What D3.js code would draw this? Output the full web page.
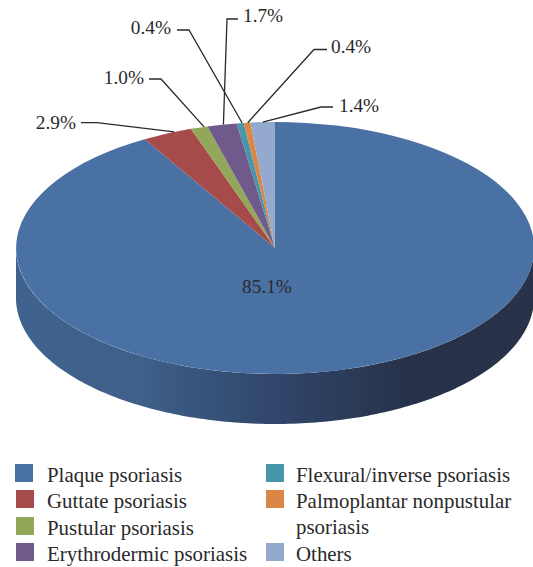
<!DOCTYPE html>
<html>
<head>
<meta charset="utf-8">
<script src="https://cdnjs.cloudflare.com/ajax/libs/d3/7.8.5/d3.min.js"></script>
<style>
  html, body { margin: 0; padding: 0; background: #fff; }
  text { font-family: "Liberation Serif", serif; fill: #2a2a2a; }
</style>
</head>
<body>
<div id="chart"></div>
<script>
// Chart data
var categories = ["Plaque psoriasis", "Guttate psoriasis", "Pustular psoriasis", "Erythrodermic psoriasis",
  "Flexural/inverse psoriasis", "Palmoplantar nonpustular psoriasis", "Others"];
var values = [85.1, 2.9, 1.0, 1.7, 0.4, 0.4, 1.4];
var valueLabels = ["85.1%", "2.9%", "1.0%", "1.7%", "0.4%", "0.4%", "1.4%"];
var colors = ["#4a71a4", "#a64b4a", "#92a75a", "#705a8c", "#4896ab", "#d98646", "#93a9cd"];

var svgWidth = 533;
var svgHeight = 567;

// Pie ellipse
var cx = 275, cy = 248, rx = 259, ry = 126, depth = 50;

var svg = d3.select("#chart")
  .append("svg")
  .attr("width", svgWidth)
  .attr("height", svgHeight)
  .style("display", "block");

// Gradient for the rim, dark towards the right
var grad = svg.append("defs").append("linearGradient")
  .attr("id", "rim")
  .attr("gradientUnits", "userSpaceOnUse")
  .attr("x1", cx - rx).attr("x2", cx + rx)
  .attr("y1", 0).attr("y2", 0);
grad.append("stop").attr("offset", "0").attr("stop-color", "#3f628f");
grad.append("stop").attr("offset", "0.24").attr("stop-color", "#3e6089");
grad.append("stop").attr("offset", "0.5").attr("stop-color", "#30466a");
grad.append("stop").attr("offset", "0.76").attr("stop-color", "#27324a");
grad.append("stop").attr("offset", "1").attr("stop-color", "#283349");

// Slices start at 12 o'clock and go clockwise, same order as the data
var pie = d3.pie().sort(null);
var arcs = pie(values);

var unitArc = d3.arc().innerRadius(0).outerRadius(1);

// point on the ellipse edge, a is the d3 pie angle
function edge(a) {
  return [cx + rx * Math.sin(a), cy - ry * Math.cos(a)];
}

// Rim, front half of the ellipse pushed down by depth
var rimAngles = d3.range(Math.PI / 2, Math.PI * 1.5 + 0.001, Math.PI / 180);
var rimArea = d3.area()
  .x(a => edge(a)[0])
  .y0(a => edge(a)[1])
  .y1(a => edge(a)[1] + depth);

svg.append("path")
  .attr("d", rimArea(rimAngles))
  .attr("fill", "url(#rim)");

// Top face
svg.append("g")
  .attr("transform", `translate(${cx}, ${cy}) scale(${rx}, ${ry})`)
  .selectAll("path")
  .data(arcs)
  .enter()
  .append("path")
  .attr("d", unitArc)
  .attr("fill", (d, i) => colors[i]);

// Leader lines: f is how far along the slice the line lands, lineY the level of the flat part
var leaders = [null,
  { f: 0.65, textX: 76, textY: 129, anchor: "end", startX: 81, elbowX: 97, lineY: 122.7 },
  { f: 0.8, textX: 144, textY: 84, anchor: "end", startX: 149, elbowX: 161, lineY: 79 },
  { f: 0.55, textX: 243, textY: 22, anchor: "start", startX: 238, elbowX: 227, lineY: 19 },
  { f: 0.8, textX: 171, textY: 34, anchor: "end", startX: 177, elbowX: 189, lineY: 30 },
  { f: 0.6, textX: 331, textY: 53, anchor: "start", startX: 327, elbowX: 314, lineY: 49.5 },
  { f: 0.5, textX: 339, textY: 112, anchor: "start", startX: 333, elbowX: 321, lineY: 107 }
];

var line = d3.line();
arcs.forEach(function(d, i) {
  var o = leaders[i];
  if (!o) return;
  var p = edge(d.startAngle + o.f * (d.endAngle - d.startAngle) - 2 * Math.PI);
  svg.append("path")
    .attr("d", line([[p[0], p[1]], [o.elbowX, o.lineY], [o.startX, o.lineY]]))
    .attr("fill", "none")
    .attr("stroke", "#2a2a2a")
    .attr("stroke-width", 1.3);
  svg.append("text")
    .attr("x", o.textX)
    .attr("y", o.textY)
    .attr("text-anchor", o.anchor)
    .style("font-size", "19.3px")
    .text(valueLabels[i]);
});

svg.append("text")
  .attr("x", 267)
  .attr("y", 293)
  .attr("text-anchor", "middle")
  .style("font-size", "19.3px")
  .text(valueLabels[0]);

// Legend, the long Palmoplantar entry wraps onto a second line
var legendRows = [
  { x: 15, y: 464, textX: 47, baseline: 482 },
  { x: 16, y: 490, textX: 47, baseline: 508 },
  { x: 16, y: 517, textX: 47, baseline: 535 },
  { x: 16, y: 543, textX: 47, baseline: 561 },
  { x: 266, y: 464, textX: 296, baseline: 482 },
  { x: 266, y: 490, textX: 296, baseline: 508 },
  { x: 266, y: 543, textX: 296, baseline: 561 }
];

var legend = svg.append("g");
categories.forEach(function(name, i) {
  var r = legendRows[i];
  legend.append("rect")
    .attr("x", r.x)
    .attr("y", r.y)
    .attr("width", 18)
    .attr("height", 18)
    .attr("fill", colors[i]);
  var lines = name.length > 30 ? [name.slice(0, name.lastIndexOf(" ")), name.slice(name.lastIndexOf(" ") + 1)] : [name];
  lines.forEach(function(t, k) {
    legend.append("text")
      .attr("x", r.textX)
      .attr("y", r.baseline + k * 26)
      .style("font-size", "20.9px")
      .text(t);
  });
});
</script>
</body>
</html>
